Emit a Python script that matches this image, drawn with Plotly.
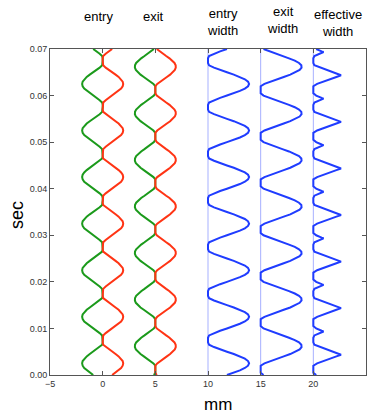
import plotly.graph_objects as go

# sample times (sec) for entry / exit slits
TIME = [
    0.0000, 0.0005, 0.0010, 0.0015, 0.0020, 0.0025, 0.0030, 0.0035, 0.0040, 0.0045,
    0.0050, 0.0055, 0.0060, 0.0065, 0.0070, 0.0075, 0.0080, 0.0085, 0.0090, 0.0095,
    0.0100, 0.0105, 0.0110, 0.0115, 0.0120, 0.0125, 0.0130, 0.0135, 0.0140, 0.0145,
    0.0150, 0.0155, 0.0160, 0.0165, 0.0170, 0.0175, 0.0180, 0.0185, 0.0190, 0.0195,
    0.0200, 0.0205, 0.0210, 0.0215, 0.0220, 0.0225, 0.0230, 0.0235, 0.0240, 0.0245,
    0.0250, 0.0255, 0.0260, 0.0265, 0.0270, 0.0275, 0.0280, 0.0285, 0.0290, 0.0295,
    0.0300, 0.0305, 0.0310, 0.0315, 0.0320, 0.0325, 0.0330, 0.0335, 0.0340, 0.0345,
    0.0350, 0.0355, 0.0360, 0.0365, 0.0370, 0.0375, 0.0380, 0.0385, 0.0390, 0.0395,
    0.0400, 0.0405, 0.0410, 0.0415, 0.0420, 0.0425, 0.0430, 0.0435, 0.0440, 0.0445,
    0.0450, 0.0455, 0.0460, 0.0465, 0.0470, 0.0475, 0.0480, 0.0485, 0.0490, 0.0495,
    0.0500, 0.0505, 0.0510, 0.0515, 0.0520, 0.0525, 0.0530, 0.0535, 0.0540, 0.0545,
    0.0550, 0.0555, 0.0560, 0.0565, 0.0570, 0.0575, 0.0580, 0.0585, 0.0590, 0.0595,
    0.0600, 0.0605, 0.0610, 0.0615, 0.0620, 0.0625, 0.0630, 0.0635, 0.0640, 0.0645,
    0.0650, 0.0655, 0.0660, 0.0665, 0.0670, 0.0675, 0.0680, 0.0685, 0.0690, 0.0695,
    0.0700,
]

# entry slit opening width (mm)
ENTRY_WIDTH = [
    1.80, 2.45, 3.03, 3.50, 3.80, 3.90, 3.80, 3.50, 3.03, 2.45, 1.80, 1.15, 0.57, 0.10, 0.00, 0.00, 0.00, 0.10, 0.57, 1.15,
    1.80, 2.45, 3.03, 3.50, 3.80, 3.90, 3.80, 3.50, 3.03, 2.45, 1.80, 1.15, 0.57, 0.10, 0.00, 0.00, 0.00, 0.10, 0.57, 1.15,
    1.80, 2.45, 3.03, 3.50, 3.80, 3.90, 3.80, 3.50, 3.03, 2.45, 1.80, 1.15, 0.57, 0.10, 0.00, 0.00, 0.00, 0.10, 0.57, 1.15,
    1.80, 2.45, 3.03, 3.50, 3.80, 3.90, 3.80, 3.50, 3.03, 2.45, 1.80, 1.15, 0.57, 0.10, 0.00, 0.00, 0.00, 0.10, 0.57, 1.15,
    1.80, 2.45, 3.03, 3.50, 3.80, 3.90, 3.80, 3.50, 3.03, 2.45, 1.80, 1.15, 0.57, 0.10, 0.00, 0.00, 0.00, 0.10, 0.57, 1.15,
    1.80, 2.45, 3.03, 3.50, 3.80, 3.90, 3.80, 3.50, 3.03, 2.45, 1.80, 1.15, 0.57, 0.10, 0.00, 0.00, 0.00, 0.10, 0.57, 1.15,
    1.80, 2.45, 3.03, 3.50, 3.80, 3.90, 3.80, 3.50, 3.03, 2.45, 1.80, 1.15, 0.57, 0.10, 0.00, 0.00, 0.00, 0.10, 0.57, 1.15,
    1.80,
]

# exit slit opening width (mm)
EXIT_WIDTH = [
    0.27, 0.00, 0.00, 0.00, 0.00, 0.36, 0.91, 1.54, 2.19, 2.81, 3.33, 3.70, 3.88, 3.86, 3.64, 3.24, 2.69, 2.06, 1.41, 0.79,
    0.27, 0.00, 0.00, 0.00, 0.00, 0.36, 0.91, 1.54, 2.19, 2.81, 3.33, 3.70, 3.88, 3.86, 3.64, 3.24, 2.69, 2.06, 1.41, 0.79,
    0.27, 0.00, 0.00, 0.00, 0.00, 0.36, 0.91, 1.54, 2.19, 2.81, 3.33, 3.70, 3.88, 3.86, 3.64, 3.24, 2.69, 2.06, 1.41, 0.79,
    0.27, 0.00, 0.00, 0.00, 0.00, 0.36, 0.91, 1.54, 2.19, 2.81, 3.33, 3.70, 3.88, 3.86, 3.64, 3.24, 2.69, 2.06, 1.41, 0.79,
    0.27, 0.00, 0.00, 0.00, 0.00, 0.36, 0.91, 1.54, 2.19, 2.81, 3.33, 3.70, 3.88, 3.86, 3.64, 3.24, 2.69, 2.06, 1.41, 0.79,
    0.27, 0.00, 0.00, 0.00, 0.00, 0.36, 0.91, 1.54, 2.19, 2.81, 3.33, 3.70, 3.88, 3.86, 3.64, 3.24, 2.69, 2.06, 1.41, 0.79,
    0.27, 0.00, 0.00, 0.00, 0.00, 0.36, 0.91, 1.54, 2.19, 2.81, 3.33, 3.70, 3.88, 3.86, 3.64, 3.24, 2.69, 2.06, 1.41, 0.79,
    0.27,
]

# sample times (sec) for the effective width (includes the crossing points)
EFF_TIME = [
    0.00000, 0.00050, 0.00100, 0.00150, 0.00200, 0.00250, 0.00300, 0.00350, 0.00400, 0.00435, 0.00450,
    0.00500, 0.00550, 0.00600, 0.00650, 0.00700, 0.00750, 0.00800, 0.00850, 0.00900, 0.00935, 0.00950,
    0.01000, 0.01050, 0.01100, 0.01150, 0.01200, 0.01250, 0.01300, 0.01350, 0.01400, 0.01435, 0.01450,
    0.01500, 0.01550, 0.01600, 0.01650, 0.01700, 0.01750, 0.01800, 0.01850, 0.01900, 0.01935, 0.01950,
    0.02000, 0.02050, 0.02100, 0.02150, 0.02200, 0.02250, 0.02300, 0.02350, 0.02400, 0.02435, 0.02450,
    0.02500, 0.02550, 0.02600, 0.02650, 0.02700, 0.02750, 0.02800, 0.02850, 0.02900, 0.02935, 0.02950,
    0.03000, 0.03050, 0.03100, 0.03150, 0.03200, 0.03250, 0.03300, 0.03350, 0.03400, 0.03435, 0.03450,
    0.03500, 0.03550, 0.03600, 0.03650, 0.03700, 0.03750, 0.03800, 0.03850, 0.03900, 0.03935, 0.03950,
    0.04000, 0.04050, 0.04100, 0.04150, 0.04200, 0.04250, 0.04300, 0.04350, 0.04400, 0.04435, 0.04450,
    0.04500, 0.04550, 0.04600, 0.04650, 0.04700, 0.04750, 0.04800, 0.04850, 0.04900, 0.04935, 0.04950,
    0.05000, 0.05050, 0.05100, 0.05150, 0.05200, 0.05250, 0.05300, 0.05350, 0.05400, 0.05435, 0.05450,
    0.05500, 0.05550, 0.05600, 0.05650, 0.05700, 0.05750, 0.05800, 0.05850, 0.05900, 0.05935, 0.05950,
    0.06000, 0.06050, 0.06100, 0.06150, 0.06200, 0.06250, 0.06300, 0.06350, 0.06400, 0.06435, 0.06450,
    0.06500, 0.06550, 0.06600, 0.06650, 0.06700, 0.06750, 0.06800, 0.06850, 0.06900, 0.06935, 0.06950,
    0.07000,
]

# effective width (mm)
EFF_WIDTH = [
    0.27, 0.00, 0.00, 0.00, 0.00, 0.36, 0.91, 1.54, 2.19, 2.63, 2.45, 1.80, 1.15, 0.57, 0.10, 0.00, 0.00, 0.00, 0.10, 0.57, 0.97, 0.79,
    0.27, 0.00, 0.00, 0.00, 0.00, 0.36, 0.91, 1.54, 2.19, 2.63, 2.45, 1.80, 1.15, 0.57, 0.10, 0.00, 0.00, 0.00, 0.10, 0.57, 0.97, 0.79,
    0.27, 0.00, 0.00, 0.00, 0.00, 0.36, 0.91, 1.54, 2.19, 2.63, 2.45, 1.80, 1.15, 0.57, 0.10, 0.00, 0.00, 0.00, 0.10, 0.57, 0.97, 0.79,
    0.27, 0.00, 0.00, 0.00, 0.00, 0.36, 0.91, 1.54, 2.19, 2.63, 2.45, 1.80, 1.15, 0.57, 0.10, 0.00, 0.00, 0.00, 0.10, 0.57, 0.97, 0.79,
    0.27, 0.00, 0.00, 0.00, 0.00, 0.36, 0.91, 1.54, 2.19, 2.63, 2.45, 1.80, 1.15, 0.57, 0.10, 0.00, 0.00, 0.00, 0.10, 0.57, 0.97, 0.79,
    0.27, 0.00, 0.00, 0.00, 0.00, 0.36, 0.91, 1.54, 2.19, 2.63, 2.45, 1.80, 1.15, 0.57, 0.10, 0.00, 0.00, 0.00, 0.10, 0.57, 0.97, 0.79,
    0.27, 0.00, 0.00, 0.00, 0.00, 0.36, 0.91, 1.54, 2.19, 2.63, 2.45, 1.80, 1.15, 0.57, 0.10, 0.00, 0.00, 0.00, 0.10, 0.57, 0.97, 0.79,
    0.27,
]

# column centres / baselines (mm) and column titles
ENTRY_POS = 0
EXIT_POS = 5
ENTRY_W_BASE = 10
EXIT_W_BASE = 15
EFF_W_BASE = 20
TITLES = ["entry", "exit", "entry<br>width", "exit<br>width", "effective<br>width"]
TITLE_X = [-0.35, 4.87, 11.42, 17.03, 22.35]
TITLE_Y = [1.101, 1.101, 1.084, 1.088, 1.081]

GREEN = "#1b9a1b"
RED = "#ff3414"
BLUE = "#1f3cff"

fig = go.Figure()

# thin guide lines at the width baselines
for b in [ENTRY_W_BASE, EXIT_W_BASE, EFF_W_BASE]:
    fig.add_trace(go.Scatter(x=[b, b], y=[0, 0.07], mode="lines",
                             line=dict(color="rgba(60,80,255,0.45)", width=1),
                             hoverinfo="skip", showlegend=False))

def slit(pos, widths, times):
    left = [pos - w / 2 for w in widths]
    right = [pos + w / 2 for w in widths]
    fig.add_trace(go.Scatter(x=left, y=times, mode="lines",
                             line=dict(color=GREEN, width=2), showlegend=False))
    fig.add_trace(go.Scatter(x=right, y=times, mode="lines",
                             line=dict(color=RED, width=2), showlegend=False))

slit(ENTRY_POS, ENTRY_WIDTH, TIME)
slit(EXIT_POS, EXIT_WIDTH, TIME)

for base, widths, times in [(ENTRY_W_BASE, ENTRY_WIDTH, TIME),
                            (EXIT_W_BASE, EXIT_WIDTH, TIME),
                            (EFF_W_BASE, EFF_WIDTH, EFF_TIME)]:
    fig.add_trace(go.Scatter(x=[base + w for w in widths], y=times, mode="lines",
                             line=dict(color=BLUE, width=2), showlegend=False))

annotations = []
for t, x, y in zip(TITLES, TITLE_X, TITLE_Y):
    annotations.append(dict(text=t, x=x, y=y, xref="x", yref="paper",
                            showarrow=False, xanchor="center", yanchor="middle",
                            font=dict(size=13, color="#000")))
annotations.append(dict(text="sec", x=-0.104, y=0.491, xref="paper", yref="paper",
                        showarrow=False, textangle=-90, xanchor="center", yanchor="middle",
                        font=dict(size=18, color="#000")))
annotations.append(dict(text="mm", x=0.532, y=-0.089, xref="paper", yref="paper",
                        showarrow=False, xanchor="center", yanchor="middle",
                        font=dict(size=17, color="#000")))

axis_common = dict(showline=True, mirror="ticks", linecolor="#555", linewidth=1,
                   ticks="inside", ticklen=4, tickcolor="#555", showgrid=False,
                   zeroline=False, automargin=False, tickfont=dict(size=9, color="#333"))

fig.update_layout(
    width=368, height=415,
    margin=dict(l=50, r=2, t=49, b=40, autoexpand=False),
    paper_bgcolor="white", plot_bgcolor="white",
    font=dict(family="Liberation Sans, Arial, sans-serif"),
    xaxis=dict(range=[-5, 25], tickmode="array", tickvals=[-5, 0, 5, 10, 15, 20, 25],
               ticktext=["\u22125", "0", "5", "10", "15", "20", "25"], **axis_common),
    yaxis=dict(range=[0, 0.07], tickmode="array",
               tickvals=[0, 0.01, 0.02, 0.03, 0.04, 0.05, 0.06, 0.07],
               ticktext=["0.00", "0.01", "0.02", "0.03", "0.04", "0.05", "0.06", "0.07"],
               **axis_common),
    annotations=annotations,
)

fig.write_html("out.html",
               config={"displayModeBar": False},
               post_script="document.body.style.margin='0px';"
                           "document.body.style.overflow='hidden';")
